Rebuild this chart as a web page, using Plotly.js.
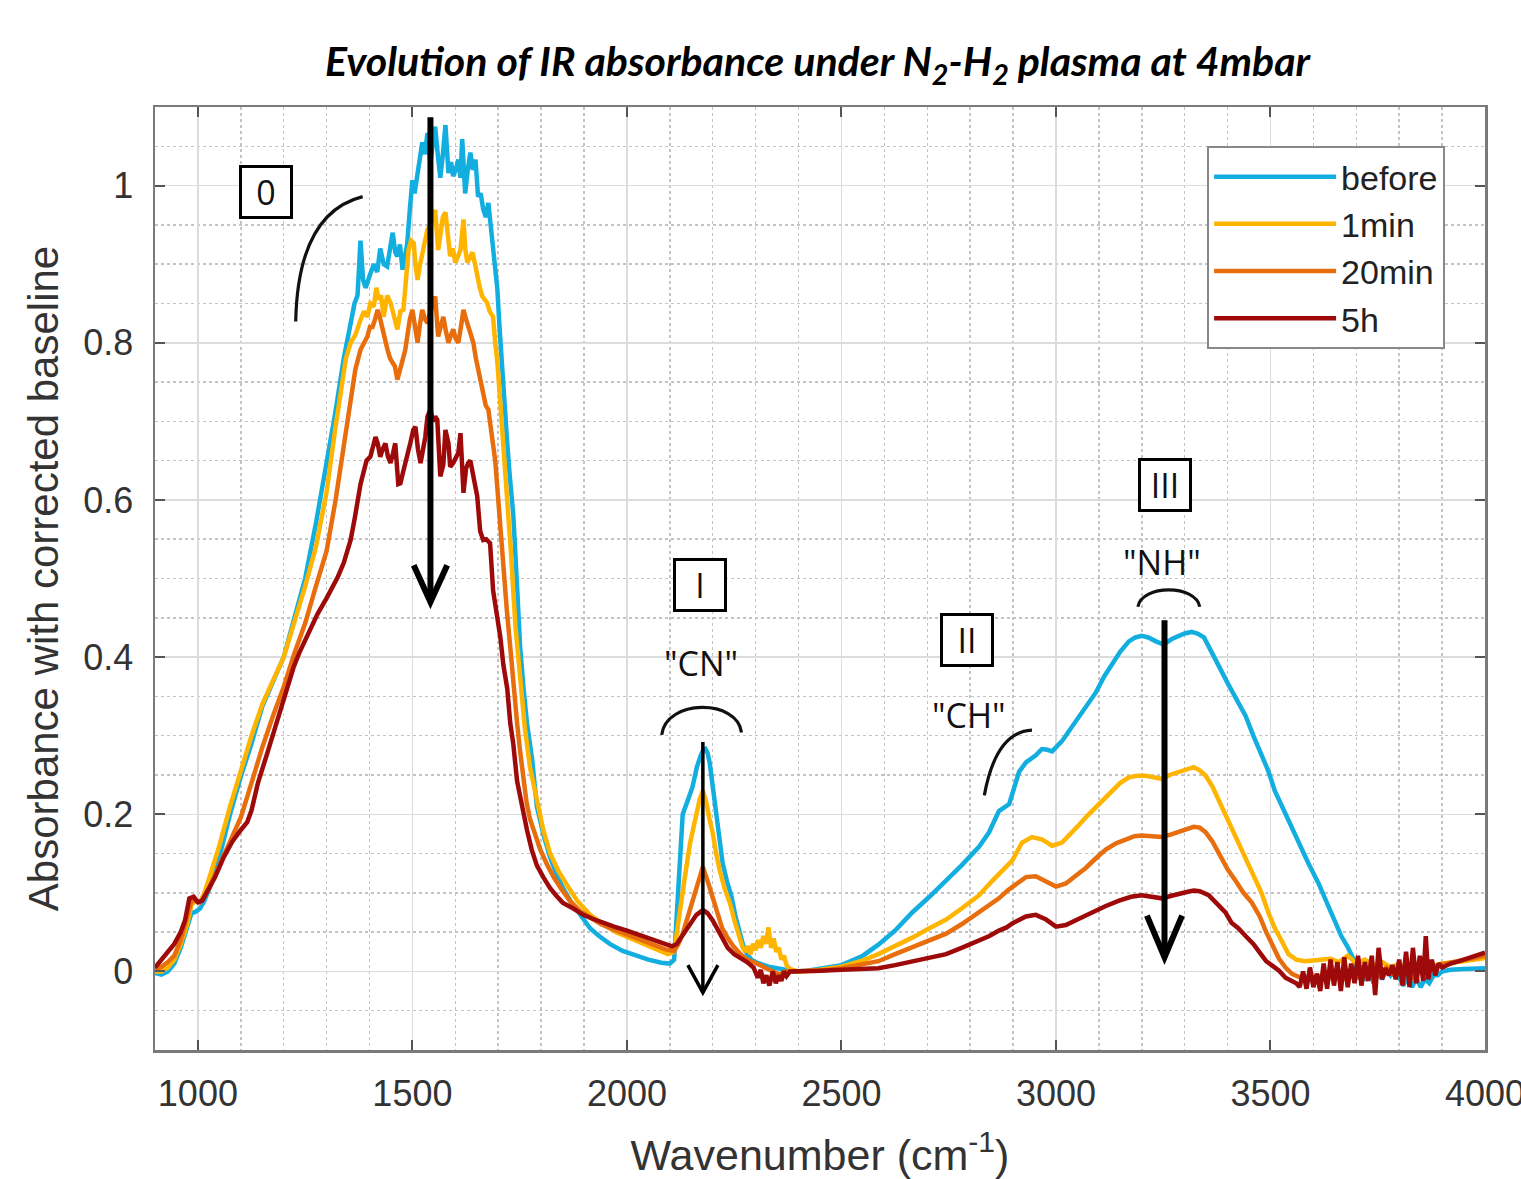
<!DOCTYPE html>
<html><head><meta charset="utf-8">
<script src="https://cdn.plot.ly/plotly-3.0.1.min.js"></script>
<style>html,body{margin:0;padding:0;background:#fff}</style>
</head><body><div id="chart" style="width:1521px;height:1179px"></div>
<script>
// ---- series: [wavenumber (cm-1), absorbance] ----
const seriesNames = ["before", "1min", "20min", "5h"];
const seriesColors = ["#12aee0", "#ffb400", "#e86d0c", "#9e0a0a"];

const before = [[900,-0.002],[915,-0.004],[930,0.0],[945,0.01],[960,0.03],[975,0.055],[985,0.074],[995,0.076],[1005,0.08],[1015,0.09],[1030,0.11],[1050,0.145],[1075,0.2],[1100,0.248],[1125,0.29],[1150,0.337],[1175,0.37],[1200,0.4],[1225,0.45],[1250,0.5],[1275,0.57],[1300,0.645],[1320,0.71],[1340,0.78],[1355,0.82],[1365,0.85],[1372,0.86],[1379,0.93],[1385,0.88],[1391,0.87],[1400,0.885],[1410,0.9],[1418,0.89],[1425,0.92],[1433,0.9],[1441,0.897],[1448,0.92],[1454,0.94],[1460,0.915],[1465,0.91],[1471,0.925],[1477,0.893],[1483,0.91],[1488,0.927],[1494,0.97],[1500,1.007],[1505,0.99],[1511,1.01],[1517,1.03],[1523,1.055],[1529,1.04],[1535,1.067],[1542,1.03],[1548,1.06],[1553,1.075],[1559,1.04],[1565,1.01],[1571,1.04],[1577,1.077],[1584,1.016],[1590,1.03],[1595,1.012],[1601,1.02],[1607,1.033],[1612,1.01],[1616,1.059],[1623,0.99],[1629,1.02],[1635,1.042],[1641,1.02],[1647,1.033],[1653,0.986],[1659,0.99],[1665,0.97],[1671,0.96],[1677,0.978],[1683,0.95],[1688,0.918],[1693,0.9],[1698,0.868],[1703,0.82],[1709,0.766],[1715,0.72],[1721,0.672],[1727,0.63],[1735,0.582],[1743,0.5],[1751,0.413],[1759,0.36],[1767,0.316],[1779,0.27],[1790,0.21],[1805,0.175],[1821,0.145],[1835,0.125],[1851,0.106],[1868,0.09],[1884,0.078],[1900,0.066],[1914,0.055],[1935,0.045],[1960,0.035],[1990,0.026],[2020,0.02],[2050,0.015],[2080,0.011],[2100,0.01],[2110,0.015],[2120,0.1],[2130,0.2],[2142,0.218],[2153,0.235],[2163,0.26],[2172,0.275],[2181,0.285],[2188,0.278],[2193,0.265],[2201,0.23],[2209,0.197],[2216,0.165],[2223,0.138],[2233,0.115],[2244,0.095],[2253,0.07],[2263,0.048],[2271,0.033],[2279,0.023],[2290,0.015],[2300,0.012],[2310,0.01],[2330,0.006],[2350,0.004],[2370,0.002],[2390,0.0],[2420,0.001],[2450,0.004],[2500,0.008],[2550,0.02],[2586,0.034],[2625,0.052],[2665,0.075],[2705,0.095],[2744,0.115],[2780,0.135],[2821,0.159],[2844,0.177],[2867,0.204],[2891,0.213],[2914,0.254],[2930,0.266],[2953,0.275],[2967,0.283],[2980,0.282],[2991,0.28],[3014,0.293],[3035,0.31],[3053,0.325],[3073,0.34],[3093,0.355],[3112,0.375],[3130,0.391],[3150,0.407],[3170,0.42],[3185,0.425],[3200,0.427],[3215,0.425],[3233,0.42],[3251,0.416],[3270,0.423],[3286,0.427],[3300,0.43],[3316,0.432],[3330,0.43],[3345,0.425],[3363,0.405],[3383,0.385],[3402,0.365],[3422,0.345],[3442,0.325],[3460,0.3],[3479,0.275],[3495,0.255],[3510,0.23],[3525,0.212],[3542,0.19],[3565,0.163],[3588,0.138],[3612,0.112],[3635,0.082],[3650,0.065],[3665,0.045],[3681,0.03],[3690,0.018],[3698,0.01],[3706,-0.01],[3714,0.008],[3722,-0.012],[3730,0.005],[3740,-0.015],[3750,0.0],[3760,-0.01],[3770,0.003],[3780,-0.005],[3790,0.002],[3800,-0.008],[3810,-0.018],[3820,-0.005],[3830,-0.02],[3840,-0.008],[3850,-0.02],[3860,-0.01],[3870,-0.015],[3880,-0.005],[3890,-0.005],[3900,0.0],[3920,0.002],[3950,0.003],[3980,0.003],[4000,0.004]];

const oneMin = [[900,0.0],[915,0.0],[930,0.005],[945,0.015],[960,0.035],[975,0.06],[985,0.085],[995,0.09],[1005,0.088],[1015,0.1],[1030,0.125],[1050,0.16],[1075,0.21],[1100,0.255],[1125,0.3],[1150,0.34],[1175,0.37],[1200,0.4],[1225,0.445],[1250,0.49],[1275,0.54],[1300,0.61],[1320,0.69],[1333,0.74],[1345,0.78],[1356,0.8],[1367,0.81],[1379,0.829],[1387,0.84],[1395,0.833],[1402,0.85],[1410,0.846],[1416,0.87],[1421,0.855],[1427,0.86],[1433,0.833],[1441,0.86],[1449,0.851],[1457,0.835],[1465,0.817],[1472,0.84],[1479,0.842],[1485,0.88],[1491,0.918],[1497,0.93],[1503,0.927],[1507,0.9],[1512,0.88],[1518,0.9],[1523,0.915],[1529,0.93],[1535,0.944],[1542,0.95],[1548,0.96],[1553,0.969],[1560,0.918],[1566,0.94],[1571,0.96],[1577,0.966],[1583,0.93],[1588,0.91],[1594,0.92],[1600,0.902],[1606,0.91],[1612,0.918],[1619,0.957],[1623,0.92],[1628,0.902],[1634,0.91],[1640,0.915],[1646,0.9],[1651,0.884],[1657,0.87],[1663,0.859],[1669,0.855],[1674,0.851],[1680,0.84],[1688,0.833],[1693,0.8],[1698,0.775],[1704,0.73],[1709,0.693],[1716,0.63],[1723,0.587],[1730,0.53],[1740,0.44],[1751,0.37],[1762,0.31],[1774,0.26],[1790,0.215],[1805,0.18],[1821,0.15],[1840,0.128],[1860,0.11],[1884,0.09],[1914,0.072],[1944,0.06],[1975,0.05],[2010,0.042],[2040,0.035],[2070,0.028],[2095,0.022],[2110,0.025],[2123,0.07],[2135,0.12],[2147,0.163],[2155,0.185],[2163,0.205],[2170,0.22],[2177,0.23],[2185,0.215],[2192,0.195],[2200,0.176],[2208,0.15],[2216,0.129],[2228,0.105],[2240,0.087],[2252,0.062],[2263,0.04],[2270,0.03],[2276,0.025],[2282,0.032],[2288,0.022],[2294,0.035],[2300,0.027],[2306,0.04],[2312,0.03],[2318,0.045],[2324,0.035],[2330,0.056],[2336,0.03],[2342,0.042],[2348,0.025],[2354,0.03],[2360,0.015],[2366,0.02],[2372,0.008],[2380,0.003],[2400,0.0],[2450,0.002],[2500,0.006],[2550,0.014],[2586,0.022],[2625,0.032],[2665,0.043],[2705,0.055],[2744,0.066],[2780,0.08],[2821,0.097],[2851,0.115],[2874,0.128],[2898,0.141],[2921,0.164],[2944,0.171],[2967,0.168],[2991,0.16],[3014,0.164],[3035,0.175],[3053,0.186],[3073,0.198],[3093,0.209],[3112,0.22],[3130,0.23],[3150,0.24],[3170,0.247],[3190,0.249],[3209,0.249],[3230,0.246],[3247,0.245],[3265,0.25],[3286,0.254],[3305,0.258],[3321,0.26],[3335,0.256],[3349,0.249],[3365,0.235],[3379,0.218],[3400,0.195],[3419,0.17],[3442,0.145],[3460,0.12],[3479,0.1],[3495,0.075],[3510,0.055],[3525,0.04],[3542,0.022],[3560,0.015],[3580,0.013],[3600,0.014],[3620,0.015],[3640,0.016],[3660,0.012],[3680,0.02],[3700,0.01],[3720,0.015],[3740,0.008],[3760,0.012],[3780,0.005],[3800,0.01],[3820,0.0],[3840,0.008],[3860,0.005],[3880,0.008],[3900,0.01],[3950,0.013],[4000,0.017]];

const twentyMin = [[900,0.002],[915,0.006],[930,0.012],[945,0.02],[960,0.04],[975,0.07],[985,0.09],[995,0.09],[1005,0.088],[1015,0.095],[1030,0.11],[1050,0.135],[1075,0.165],[1100,0.196],[1125,0.24],[1150,0.285],[1175,0.325],[1200,0.362],[1225,0.405],[1250,0.443],[1275,0.49],[1300,0.535],[1321,0.6],[1340,0.67],[1356,0.73],[1367,0.766],[1379,0.791],[1387,0.8],[1395,0.808],[1401,0.82],[1407,0.82],[1413,0.83],[1419,0.842],[1425,0.83],[1430,0.817],[1436,0.8],[1442,0.791],[1448,0.78],[1453,0.775],[1459,0.77],[1465,0.753],[1471,0.765],[1477,0.782],[1483,0.79],[1488,0.808],[1494,0.83],[1500,0.842],[1506,0.82],[1512,0.8],[1518,0.825],[1523,0.842],[1529,0.83],[1535,0.825],[1542,0.84],[1548,0.85],[1553,0.859],[1560,0.808],[1566,0.82],[1572,0.833],[1578,0.815],[1584,0.8],[1590,0.81],[1595,0.817],[1601,0.805],[1607,0.8],[1613,0.82],[1619,0.842],[1625,0.83],[1630,0.82],[1636,0.81],[1642,0.8],[1648,0.78],[1653,0.766],[1659,0.75],[1665,0.731],[1671,0.72],[1677,0.715],[1683,0.69],[1688,0.672],[1693,0.65],[1698,0.615],[1705,0.56],[1712,0.51],[1720,0.46],[1728,0.413],[1736,0.36],[1744,0.316],[1751,0.28],[1758,0.245],[1766,0.215],[1774,0.194],[1786,0.172],[1798,0.155],[1813,0.137],[1828,0.121],[1847,0.105],[1867,0.09],[1890,0.077],[1914,0.068],[1940,0.06],[1970,0.053],[2000,0.047],[2030,0.04],[2060,0.034],[2090,0.028],[2110,0.026],[2120,0.035],[2130,0.048],[2142,0.07],[2154,0.094],[2165,0.115],[2177,0.133],[2188,0.115],[2200,0.094],[2212,0.07],[2222,0.055],[2233,0.044],[2248,0.032],[2263,0.023],[2280,0.015],[2295,0.012],[2310,0.008],[2325,0.004],[2340,0.0],[2355,-0.004],[2370,0.0],[2390,0.0],[2450,0.001],[2500,0.004],[2550,0.009],[2586,0.013],[2625,0.022],[2665,0.031],[2705,0.04],[2744,0.048],[2780,0.06],[2821,0.075],[2845,0.085],[2867,0.093],[2887,0.103],[2907,0.111],[2930,0.12],[2953,0.121],[2977,0.115],[3000,0.108],[3023,0.112],[3047,0.122],[3070,0.132],[3093,0.144],[3116,0.155],[3140,0.163],[3163,0.168],[3183,0.172],[3200,0.173],[3225,0.172],[3247,0.171],[3267,0.174],[3286,0.177],[3305,0.181],[3321,0.184],[3335,0.183],[3349,0.177],[3365,0.165],[3379,0.15],[3400,0.13],[3419,0.115],[3437,0.1],[3456,0.088],[3475,0.07],[3490,0.05],[3505,0.033],[3520,0.016],[3535,0.005],[3550,-0.003],[3570,-0.008],[3590,-0.01],[3610,-0.005],[3630,-0.012],[3650,-0.002],[3670,-0.01],[3690,0.0],[3710,-0.008],[3730,0.003],[3750,-0.005],[3770,0.005],[3790,-0.005],[3810,0.002],[3830,-0.008],[3850,0.005],[3870,0.0],[3890,0.008],[3910,0.01],[3950,0.014],[4000,0.02]];

const fiveHours = [[900,0.005],[915,0.015],[930,0.025],[945,0.035],[960,0.05],[970,0.065],[980,0.093],[990,0.095],[1000,0.088],[1010,0.09],[1025,0.105],[1040,0.12],[1060,0.145],[1080,0.165],[1100,0.18],[1115,0.19],[1125,0.205],[1140,0.24],[1163,0.28],[1180,0.31],[1193,0.336],[1208,0.36],[1223,0.387],[1236,0.405],[1247,0.418],[1262,0.435],[1279,0.455],[1300,0.475],[1315,0.49],[1326,0.502],[1340,0.52],[1350,0.54],[1356,0.549],[1365,0.575],[1372,0.6],[1379,0.62],[1386,0.635],[1393,0.65],[1402,0.655],[1408,0.67],[1414,0.68],[1419,0.672],[1425,0.655],[1431,0.665],[1437,0.672],[1443,0.655],[1449,0.647],[1455,0.66],[1460,0.672],[1467,0.62],[1472,0.621],[1478,0.635],[1484,0.647],[1490,0.66],[1495,0.672],[1502,0.689],[1507,0.693],[1513,0.664],[1519,0.647],[1525,0.665],[1530,0.68],[1535,0.706],[1542,0.715],[1548,0.7],[1553,0.706],[1558,0.702],[1565,0.63],[1572,0.645],[1577,0.689],[1584,0.672],[1588,0.642],[1595,0.647],[1601,0.655],[1607,0.66],[1612,0.685],[1619,0.609],[1625,0.64],[1630,0.647],[1635,0.65],[1642,0.63],[1647,0.615],[1651,0.605],[1658,0.56],[1665,0.549],[1672,0.55],[1681,0.545],[1688,0.485],[1698,0.45],[1705,0.425],[1712,0.39],[1721,0.36],[1728,0.316],[1735,0.29],[1744,0.242],[1755,0.21],[1767,0.18],[1778,0.155],[1790,0.135],[1805,0.12],[1821,0.106],[1836,0.096],[1851,0.087],[1875,0.08],[1898,0.072],[1920,0.067],[1944,0.062],[1970,0.057],[2000,0.052],[2030,0.046],[2060,0.04],[2090,0.034],[2105,0.032],[2116,0.035],[2130,0.046],[2147,0.061],[2162,0.072],[2177,0.078],[2188,0.074],[2200,0.065],[2212,0.052],[2223,0.04],[2235,0.03],[2250,0.022],[2263,0.018],[2280,0.012],[2295,0.005],[2305,-0.008],[2312,0.002],[2318,-0.015],[2325,-0.005],[2332,-0.018],[2340,0.0],[2347,-0.015],[2354,-0.005],[2360,-0.012],[2366,0.0],[2372,-0.006],[2380,0.0],[2400,0.0],[2450,0.001],[2500,0.002],[2550,0.003],[2586,0.004],[2625,0.008],[2665,0.013],[2705,0.017],[2744,0.022],[2780,0.03],[2821,0.039],[2845,0.045],[2867,0.052],[2885,0.056],[2898,0.061],[2915,0.066],[2930,0.07],[2953,0.072],[2977,0.066],[3000,0.057],[3023,0.059],[3050,0.066],[3084,0.075],[3115,0.083],[3147,0.09],[3175,0.095],[3200,0.097],[3225,0.095],[3247,0.093],[3267,0.096],[3286,0.099],[3305,0.101],[3321,0.103],[3335,0.102],[3356,0.097],[3375,0.087],[3395,0.075],[3409,0.062],[3425,0.055],[3442,0.045],[3460,0.035],[3475,0.024],[3490,0.013],[3505,0.007],[3520,0.001],[3535,-0.008],[3550,-0.012],[3560,-0.015],[3568,-0.02],[3576,0.0],[3584,-0.022],[3592,0.005],[3600,-0.02],[3608,-0.003],[3616,-0.025],[3624,0.01],[3632,-0.022],[3640,0.015],[3648,-0.018],[3656,0.012],[3664,-0.025],[3672,0.018],[3680,-0.02],[3688,0.01],[3696,-0.015],[3704,0.02],[3712,-0.018],[3720,0.012],[3728,-0.012],[3736,0.02],[3744,-0.03],[3752,0.03],[3760,-0.01],[3768,0.004],[3776,-0.005],[3784,0.008],[3792,-0.01],[3800,0.015],[3808,-0.018],[3816,0.025],[3824,-0.02],[3832,0.03],[3840,-0.015],[3848,0.02],[3856,-0.012],[3862,0.045],[3868,-0.01],[3876,0.015],[3884,-0.005],[3892,0.01],[3900,0.005],[3920,0.01],[3940,0.013],[3960,0.017],[3980,0.02],[4000,0.024]];

// ---- annotation decorations (data coordinates) ----
const boxLabels = [{t:"0", x:1158, y:0.992},{t:"I", x:2170, y:0.492},{t:"II", x:2793, y:0.422},{t:"III", x:3253, y:0.619}];
const bandLabels = [{t:'"CN"', x:2172, y:0.392},{t:'"CH"', x:2798, y:0.326},{t:'"NH"', x:3247, y:0.521}];
const arcs = ["M 1228,0.827 Q 1233,0.965 1384,0.986",
              "M 2081,0.301 C 2091,0.347 2258,0.347 2267,0.304",
              "M 2833,0.224 Q 2860,0.305 2944,0.307",
              "M 3191,0.464 C 3200,0.4926 3326,0.4926 3335,0.464"];
// arrows: [x, yTop, yTip, halfWidthWn, headHeight, lineWidth]
const arrows = [[1542,1.087,0.47,39,0.047,6],[2177,0.292,-0.027,35,0.035,3.5],[3253,0.447,0.018,41,0.053,6]];

const tickFont = {family:"Liberation Sans, Arial, sans-serif", size:36, color:"#333"};
const datasets = [before, oneMin, twentyMin, fiveHours];

const traces = datasets.map((d,i)=>({
  type:"scatter", mode:"lines", name:seriesNames[i],
  x:d.map(p=>p[0]), y:d.map(p=>p[1]),
  line:{color:seriesColors[i], width:4.5}
}));

const shapes = [];
arcs.forEach(p=>shapes.push({type:"path", xref:"x", yref:"y", path:p, line:{color:"#111", width:3.2}}));
arrows.forEach(a=>{
  shapes.push({type:"line", xref:"x", yref:"y", x0:a[0], x1:a[0], y0:a[1], y1:a[2], line:{color:"#000", width:a[5]}});
  shapes.push({type:"path", xref:"x", yref:"y",
    path:`M ${a[0]-a[3]},${a[2]+a[4]} L ${a[0]},${a[2]} L ${a[0]+a[3]},${a[2]+a[4]}`,
    line:{color:"#000", width:a[5]}});
});

const annotations = [];
boxLabels.forEach(b=>annotations.push({x:b.x, y:b.y, xref:"x", yref:"y", text:b.t, showarrow:false,
  font:{family:"Open Sans, sans-serif", size:34, color:"#111"}, bordercolor:"#000", borderwidth:3,
  bgcolor:"#fff", width:48, height:48, align:"center", valign:"middle", borderpad:0}));
bandLabels.forEach(b=>annotations.push({x:b.x, y:b.y, xref:"x", yref:"y", text:b.t, showarrow:false,
  font:{family:"Open Sans, sans-serif", size:34, color:"#111"}}));

const layout = {
  width:1521, height:1179,
  margin:{l:155, r:36, t:107, b:129},
  paper_bgcolor:"#fff", plot_bgcolor:"#fff",
  showlegend:true,
  title:{text:"Evolution of IR absorbance under N<sub>2</sub>-H<sub>2</sub> plasma at 4mbar",
    font:{family:"Lato, sans-serif", size:41, weight:"bold", style:"italic", color:"#000"},
    x:0.5375, xanchor:"center", xref:"container", y:1-62/1179, yref:"container", yanchor:"middle"},
  xaxis:{range:[900,4000], tickvals:[1000,1500,2000,2500,3000,3500,4000], ticks:"inside", ticklen:10, tickwidth:2, tickcolor:"#555",
    showline:true, linecolor:"#7a7a7a", linewidth:2.5, mirror:"ticks",
    showgrid:true, gridcolor:"#dcdcdc", gridwidth:1.5, zeroline:false,
    minor:{dtick:100, tick0:0, showgrid:true, gridcolor:"#c4c4c4", griddash:"dot", gridwidth:1.5},
    tickfont:tickFont, ticklabelstandoff:10, ticklabeloverflow:"allow",
    title:{text:"Wavenumber (cm<sup>-1</sup>)", font:{family:"Liberation Sans, Arial, sans-serif", size:43, color:"#333"}, standoff:30}},
  yaxis:{range:[-0.1,1.1], tick0:0, dtick:0.2, ticks:"inside", ticklen:10, tickwidth:2, tickcolor:"#555",
    showline:true, linecolor:"#7a7a7a", linewidth:2.5, mirror:"ticks",
    showgrid:true, gridcolor:"#dcdcdc", gridwidth:1.5, zeroline:false,
    minor:{dtick:0.05, tick0:0, showgrid:true, gridcolor:"#c4c4c4", griddash:"dot", gridwidth:1.5},
    tickfont:tickFont, ticklabelstandoff:12,
    title:{text:"Absorbance with corrected baseline", font:{family:"Liberation Sans, Arial, sans-serif", size:42, color:"#333"}, standoff:12}},
  legend:{x:0.970, xanchor:"right", y:0.9586, yanchor:"top", bgcolor:"#fff", bordercolor:"#888", borderwidth:2,
    font:{family:"Liberation Sans, Arial, sans-serif", size:34, color:"#222"}, itemwidth:122, tracegroupgap:0},
  shapes:shapes, annotations:annotations
};

Plotly.newPlot("chart", traces, layout, {displayModeBar:false, staticPlot:true});
</script>
</body></html>
